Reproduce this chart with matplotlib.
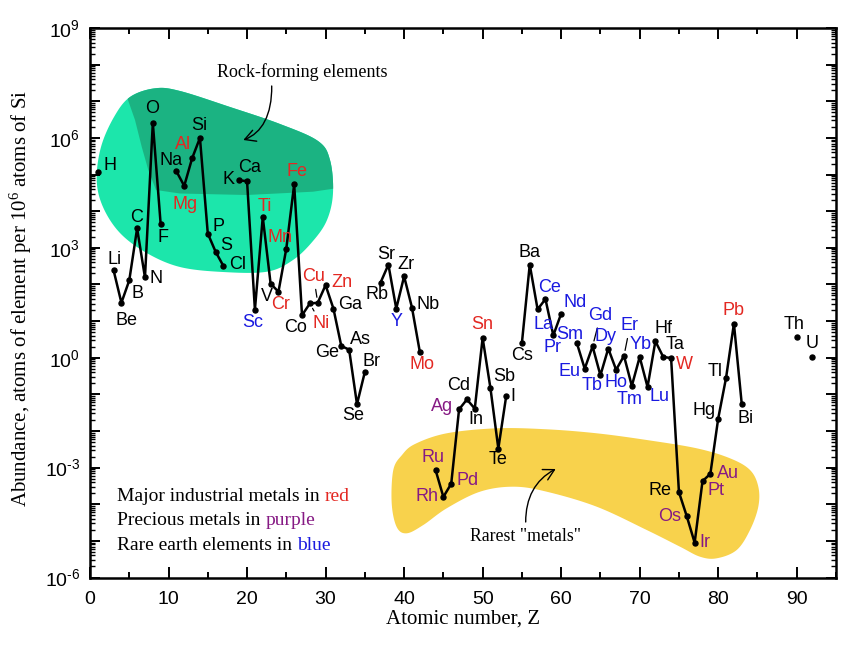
import numpy as np
import matplotlib
matplotlib.use("Agg")
import matplotlib.pyplot as plt
from matplotlib.path import Path
from matplotlib.patches import PathPatch, FancyArrowPatch
from matplotlib.ticker import FixedLocator, LogLocator, FuncFormatter, MultipleLocator, NullFormatter

# ---------------- data ----------------
elements = ["H", "Li", "Be", "B", "C", "N", "O", "F", "Na", "Mg", "Al", "Si", "P", "S", "Cl",
            "K", "Ca", "Sc", "Ti", "V", "Cr", "Mn", "Fe", "Co", "Ni", "Cu", "Zn", "Ga", "Ge",
            "As", "Se", "Br", "Rb", "Sr", "Y", "Zr", "Nb", "Mo", "Ru", "Rh", "Pd", "Ag", "Cd",
            "In", "Sn", "Sb", "Te", "I", "Cs", "Ba", "La", "Ce", "Pr", "Nd", "Sm", "Eu", "Gd",
            "Tb", "Dy", "Ho", "Er", "Tm", "Yb", "Lu", "Hf", "Ta", "W", "Re", "Os", "Ir", "Pt",
            "Au", "Hg", "Tl", "Pb", "Bi", "Th", "U"]
atomic_number = [1, 3, 4, 5, 6, 7, 8, 9, 11, 12, 13, 14, 15, 16, 17,
                 19, 20, 21, 22, 23, 24, 25, 26, 27, 28, 29, 30, 31, 32,
                 33, 34, 35, 37, 38, 39, 40, 41, 42, 44, 45, 46, 47, 48,
                 49, 50, 51, 52, 53, 55, 56, 57, 58, 59, 60, 62, 63, 64,
                 65, 66, 67, 68, 69, 70, 71, 72, 73, 74, 75, 76, 77, 78,
                 79, 80, 81, 82, 83, 90, 92]
log10_abundance = [5.07, 2.39, 1.50, 2.11, 3.53, 2.19, 6.41, 3.64, 5.09, 4.69, 5.44, 6.00, 3.39, 2.89, 2.50,
                   4.84, 4.82, 1.31, 3.84, 2.02, 1.80, 2.98, 4.73, 1.16, 1.48, 1.50, 1.98, 1.34, 0.32,
                   0.22, -1.27, -0.39, 2.05, 2.54, 1.34, 2.22, 1.37, 0.16, -3.06, -3.80, -3.44, -1.41, -1.14,
                   -1.39, 0.54, -0.84, -2.48, -1.05, 0.40, 2.54, 1.32, 1.60, 0.61, 1.20, 0.40, -0.30, 0.31,
                   -0.48, 0.25, -0.33, 0.05, -0.77, 0.02, -0.80, 0.45, 0.02, -0.01, -3.67, -4.33, -5.05, -3.37,
                   -3.17, -1.66, -0.55, 0.93, -1.27, 0.57, 0.02]

industrial_metals = ["Mg", "Al", "Ti", "Cr", "Mn", "Fe", "Ni", "Cu", "Zn", "Mo", "Sn", "W", "Pb"]
precious_metals = ["Ru", "Rh", "Pd", "Ag", "Os", "Ir", "Pt", "Au"]
rare_earths = ["Sc", "Y", "La", "Ce", "Pr", "Nd", "Sm", "Eu", "Gd", "Tb", "Dy", "Ho", "Er", "Tm", "Yb", "Lu"]

y_ticks_exp = list(range(-6, 10))
y_label_exp = [-6, -3, 0, 3, 6, 9]
x_ticks = [0, 10, 20, 30, 40, 50, 60, 70, 80, 90]

# ---------------- layout / style ----------------
RED = "#E32822"
PURPLE = "#861A84"
BLUE = "#1A1AE0"
SANS = "Liberation Sans"
SERIF = "Liberation Serif"

# label offsets in pixels (dx, dy) relative to each point
offsets = {
    "H": (12, 6), "Li": (1, 11), "Be": (5, -18), "B": (8, -13), "C": (-1, 11), "N": (11, -1),
    "O": (-1, 14), "F": (2, -13), "Na": (-5, 11), "Mg": (1, -19), "Al": (-9, 14), "Si": (-1, 12),
    "P": (11, 7), "S": (11, 6), "Cl": (14, 2), "K": (-11, 1), "Ca": (3, 14), "Sc": (-2, -13),
    "Ti": (2, 11), "V": (-4, -13), "Cr": (2, -13), "Mn": (-6, 11), "Fe": (3, 13), "Co": (-6, -12),
    "Ni": (11, -20), "Cu": (-4, 26), "Zn": (16, 3), "Ga": (17, 4), "Ge": (-14, -7), "As": (11, 10),
    "Se": (-4, -11), "Br": (7, 10), "Rb": (-4, -12), "Sr": (-2, 10), "Y": (0, -13), "Zr": (2, 12),
    "Nb": (16, 3), "Mo": (2, -13), "Ru": (-3, 12), "Rh": (-16, 0), "Pd": (16, 3), "Ag": (-17, 3),
    "Cd": (-8, 14), "In": (1, -11), "Sn": (0, 13), "Sb": (14, 12), "Te": (0, -11), "I": (7, 0),
    "Cs": (0, -12), "Ba": (0, 12), "La": (6, -15), "Ce": (4, 12), "Pr": (-1, -12), "Nd": (14, 11),
    "Sm": (-7, 9), "Eu": (-15, -3), "Gd": (8, 31), "Tb": (-8, -10), "Dy": (-3, 12), "Ho": (0, -13),
    "Er": (6, 30), "Tm": (-2, -14), "Yb": (1, 12), "Lu": (12, -9), "Hf": (8, 13), "Ta": (12, 12),
    "W": (13, -6), "Re": (-19, 2), "Os": (-17, 0), "Ir": (10, 0), "Pt": (13, -9), "Au": (18, 0),
    "Hg": (-14, 8), "Tl": (-11, 6), "Pb": (0, 13), "Bi": (4, -14), "Th": (-3, 12), "U": (0, 13),
}
leaders = {"Cu", "Ni", "Gd", "Er"}

W, H = 850, 651
AX_L, AX_R, AX_T, AX_B = 90, 836, 28, 577.5

fig = plt.figure(figsize=(W / 100, H / 100), dpi=100)
ax = fig.add_axes([AX_L / W, 1 - AX_B / H, (AX_R - AX_L) / W, (AX_B - AX_T) / H])


def pxa(x, y):
    """reference pixel -> axes fraction"""
    return ((x - AX_L) / (AX_R - AX_L), (AX_B - y) / (AX_B - AX_T))


def smooth_closed(pts, n=24):
    P = np.array([pxa(*p) for p in pts])
    N = len(P)
    out = []
    t = np.linspace(0, 1, n, endpoint=False)[:, None]
    for i in range(N):
        p0, p1, p2, p3 = P[i - 1], P[i], P[(i + 1) % N], P[(i + 2) % N]
        out.append(0.5 * (2 * p1 + (-p0 + p2) * t + (2 * p0 - 5 * p1 + 4 * p2 - p3) * t ** 2
                          + (-p0 + 3 * p1 - 3 * p2 + p3) * t ** 3))
    v = np.vstack(out)
    return Path(np.vstack([v, v[:1]]), closed=True)


# ---- blobs ----
green_pts = [(130, 97), (155, 88.3), (180, 91), (230, 107), (280, 124), (318, 141), (330, 160),
             (333, 193), (327, 220), (313, 241), (293, 260), (267, 271.7), (223, 272), (180, 267),
             (146.7, 253), (120, 233), (103, 207), (96.7, 180), (101, 147), (114, 117)]
green_path = smooth_closed(green_pts)
green = PathPatch(green_path, facecolor="#1CE6AB", edgecolor="none", transform=ax.transAxes, zorder=0.5)
ax.add_patch(green)
dark_pts = [(120, 70), (128, 100), (135, 120), (141.7, 146.7), (148.3, 170), (156, 190), (180, 193.5),
            (246.7, 195), (313, 191.7), (345, 187), (350, 70)]
dark_path = Path(np.array([pxa(*p) for p in dark_pts] + [pxa(*dark_pts[0])]), closed=True)
dark = PathPatch(dark_path, facecolor="#1BB382", edgecolor="none", transform=ax.transAxes, zorder=0.6)
ax.add_patch(dark)
dark.set_clip_path(green)

yellow_pts = [(393.3, 470), (402, 455), (415, 444), (446.7, 433.3), (496.7, 428.3), (546.7, 429.3),
              (596.7, 433.3), (646.7, 440), (696.7, 448.3), (730, 458.3), (750, 470), (758.3, 486.7),
              (758.3, 506.7), (750, 530), (736.7, 550), (716.7, 558.3), (700, 556.7), (680, 546.7),
              (646.7, 530), (596.7, 506.7), (546.7, 491.7), (513.3, 486.7), (480, 491.7), (446.7, 508.3),
              (423.3, 525), (406.7, 533.3), (396.7, 527), (391.7, 503.3)]
ax.add_patch(PathPatch(smooth_closed(yellow_pts), facecolor="#F8D24C", edgecolor="none",
                       transform=ax.transAxes, zorder=0.5))

# ---- data line ----
z_full = np.arange(0, 93)
y_full = np.full(93, np.nan)
y_full[np.array(atomic_number)] = 10.0 ** np.array(log10_abundance)
ax.plot(z_full, y_full, color="black", lw=1.8, zorder=2)
ax.plot(atomic_number, 10.0 ** np.array(log10_abundance), "o", color="black", ms=3.6, zorder=2.5)

for sym, z, lv in zip(elements, atomic_number, log10_abundance):
    col = RED if sym in industrial_metals else PURPLE if sym in precious_metals else BLUE if sym in rare_earths else "black"
    dx, dy = offsets.get(sym, (0, 12))
    kw = {}
    if sym in leaders:
        kw["arrowprops"] = dict(arrowstyle="-", lw=0.9, color="black", shrinkA=1, shrinkB=4)
    ax.annotate(sym, xy=(z, 10.0 ** lv), xytext=(dx, dy), textcoords="offset pixels",
                ha="center", va="center", fontsize=13, family=SANS, color=col, zorder=3, **kw)

# ---- annotations ----
ax.text(*pxa(302.5, 72), "Rock-forming elements", transform=ax.transAxes, ha="center", va="center",
        fontsize=13, family=SERIF, zorder=4)
ax.text(*pxa(525, 536.5), 'Rarest "metals"', transform=ax.transAxes, ha="center", va="center",
        fontsize=12.8, family=SERIF, zorder=4)

arrow_kw = dict(arrowstyle="->,head_length=0.55,head_width=0.3", mutation_scale=14, lw=1.0,
                color="black", transform=ax.transAxes, zorder=4)
rock = Path([pxa(271.7, 86), pxa(272, 115), pxa(262, 133), pxa(243.3, 140)],
            [Path.MOVETO, Path.CURVE4, Path.CURVE4, Path.CURVE4])
ax.add_patch(FancyArrowPatch(path=rock, **arrow_kw))
rare = Path([pxa(525.7, 522), pxa(525.7, 498), pxa(535, 480), pxa(555.7, 469)],
            [Path.MOVETO, Path.CURVE4, Path.CURVE4, Path.CURVE4])
ax.add_patch(FancyArrowPatch(path=rare, **arrow_kw))

legend_lines = [("Major industrial metals in", "red", RED),
                ("Precious metals in", "purple", PURPLE),
                ("Rare earth elements in", "blue", BLUE)]
for i, (txt, word, col) in enumerate(legend_lines):
    t = ax.text(*pxa(117, 496.7 + 24.2 * i), txt, transform=ax.transAxes, ha="left", va="center",
                fontsize=14, family=SERIF, zorder=4)
    ax.annotate(word, xy=(1, 0), xycoords=t, xytext=(5, 0), textcoords="offset pixels",
                ha="left", va="bottom", fontsize=14, family=SERIF, color=col, zorder=4)

# ---- axes ----
ax.set_yscale("log")
ax.set_xlim(0, 95)
ax.set_ylim(1e-6, 1e9)
ax.yaxis.set_major_locator(FixedLocator([10.0 ** k for k in y_ticks_exp]))
ax.yaxis.set_minor_locator(LogLocator(base=10, subs=np.arange(2, 10), numticks=40))
ax.yaxis.set_minor_formatter(NullFormatter())


def yfmt(v, pos):
    k = int(round(np.log10(v)))
    if k not in y_label_exp:
        return ""
    s = str(k).replace("-", "\u2010")
    return r"$\mathregular{10^{%s}}$" % s


ax.yaxis.set_major_formatter(FuncFormatter(yfmt))
ax.xaxis.set_major_locator(FixedLocator(x_ticks))
ax.xaxis.set_minor_locator(MultipleLocator(5))

for s in ax.spines.values():
    s.set_linewidth(1.8)
ax.tick_params(axis="both", which="both", direction="in", top=True, right=True, color="black")
ax.tick_params(axis="x", which="major", length=8, width=1.4, pad=10, labelsize=14)
ax.tick_params(axis="x", which="minor", length=4.3, width=1.4)
ax.tick_params(axis="y", which="major", length=7.5, width=1.4, pad=7, labelsize=14)
ax.tick_params(axis="y", which="minor", length=3.8, width=1.0)
for lab in ax.get_xticklabels() + ax.get_yticklabels():
    lab.set_family(SANS)

ax.set_xlabel("Atomic number, Z", fontsize=15, family=SERIF)
ax.set_ylabel(r"Abundance, atoms of element per $\mathregular{10^{6}}$ atoms of Si", fontsize=15, family=SERIF)
ax.xaxis.set_label_coords(*pxa(463, 610))
ax.yaxis.set_label_coords(*pxa(34, 298.5))

fig.savefig("out.png", dpi=100)
